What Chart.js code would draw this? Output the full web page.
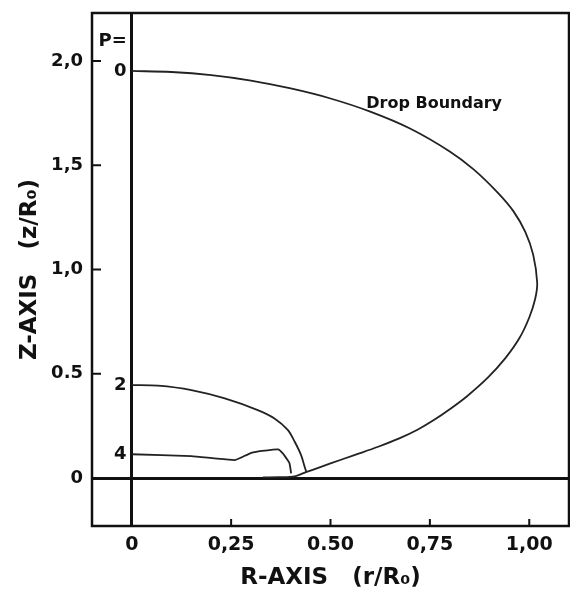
<!DOCTYPE html>
<html>
<head>
<meta charset="utf-8">
<script src="https://cdn.jsdelivr.net/npm/chart.js@4"></script>
<style>
  html, body { margin: 0; padding: 0; background: #fff; }
  #wrap { width: 570px; height: 595px; }
</style>
</head>
<body>
<div id="wrap"><canvas id="dropChart"></canvas></div>
<script>
// contours, r/R0 and z/R0
const boundaryR = [0.000, 0.10, 0.20, 0.30, 0.40, 0.50, 0.60, 0.70, 0.80, 0.86, 0.92, 0.96, 0.99, 1.01, 1.02, 1.015, 1.00, 0.975, 0.94, 0.895, 0.842, 0.80, 0.76, 0.72, 0.673, 0.62, 0.56, 0.50, 0.44, 0.41, 0.37, 0.33];
const boundaryZ = [1.952, 1.947, 1.932, 1.906, 1.868, 1.82, 1.757, 1.676, 1.566, 1.48, 1.37, 1.28, 1.18, 1.07, 0.935, 0.86, 0.77, 0.67, 0.575, 0.48, 0.39, 0.33, 0.278, 0.233, 0.19, 0.15, 0.11, 0.07, 0.03, 0.008, 0.004, 0.003];

const p2R = [0.000, 0.066, 0.15, 0.234, 0.317, 0.359, 0.393, 0.41, 0.426, 0.435, 0.439];
const p2Z = [0.446, 0.443, 0.422, 0.382, 0.326, 0.286, 0.230, 0.174, 0.11, 0.054, 0.03];

const p4R = [0.000, 0.15, 0.208, 0.259, 0.276, 0.301, 0.334, 0.368, 0.38, 0.392, 0.397, 0.401];
const p4Z = [0.114, 0.105, 0.094, 0.086, 0.099, 0.121, 0.131, 0.137, 0.118, 0.086, 0.07, 0.022];

const curveLabels = ["0", "2", "4"];   // P value written beside each curve
const xTickValues = [0, 0.25, 0.5, 0.75, 1.0];
const xTickLabels = ["0", "0,25", "0.50", "0,75", "1,00"];
const yTickValues = [0, 0.5, 1.0, 1.5, 2.0];
const yTickLabels = ["0", "0.5", "1,0", "1,5", "2,0"];

const ink = "#111";
const toPoints = (rs, zs) => rs.map((r, i) => ({ x: r, y: zs[i] }));

// frame, inward ticks and the hand lettering
const frameAndLabels = {
  id: "frameAndLabels",
  afterDraw(chart) {
    const { ctx, chartArea: a, scales: { x, y } } = chart;
    ctx.save();
    ctx.strokeStyle = ink;
    ctx.lineWidth = 2.5;
    ctx.strokeRect(a.left, a.top, a.right - a.left, a.bottom - a.top);

    ctx.lineWidth = 2;
    ctx.beginPath();
    xTickValues.slice(1).forEach(v => {
      const px = x.getPixelForValue(v);
      ctx.moveTo(px, a.bottom);
      ctx.lineTo(px, a.bottom - 7);
    });
    yTickValues.slice(1).forEach(v => {
      const py = y.getPixelForValue(v);
      ctx.moveTo(a.left, py);
      ctx.lineTo(a.left + 9, py);
    });
    ctx.stroke();

    ctx.fillStyle = ink;
    ctx.font = "bold 18px 'DejaVu Sans'";
    ctx.textAlign = "center";
    ctx.textBaseline = "middle";
    const starts = [boundaryZ[0], p2Z[0], p4Z[0]];
    curveLabels.forEach((t, i) => {
      ctx.fillText(t, x.getPixelForValue(-0.029), y.getPixelForValue(starts[i]));
    });
    ctx.fillText("P=", x.getPixelForValue(-0.048), y.getPixelForValue(2.096));

    ctx.font = "bold 16px 'DejaVu Sans'";
    ctx.textAlign = "left";
    ctx.fillText("Drop Boundary", x.getPixelForValue(0.59), y.getPixelForValue(1.795));
    ctx.restore();
  }
};

const lineStyle = { showLine: true, pointRadius: 0, borderColor: "#222", borderWidth: 1.8, fill: false };

// keep the tick label overhang from pushing the plot area around
const noPad = s => { s.paddingTop = 0; s.paddingBottom = 0; s.paddingLeft = 0; s.paddingRight = 0; };

new Chart(document.getElementById("dropChart"), {
  type: "scatter",
  data: {
    datasets: [
      { ...lineStyle, data: toPoints(boundaryR, boundaryZ), tension: 0.35 },
      { ...lineStyle, data: toPoints(p2R, p2Z), tension: 0.3 },
      { ...lineStyle, data: toPoints(p4R, p4Z), tension: 0.15 }
    ]
  },
  options: {
    animation: false,
    responsive: true,
    maintainAspectRatio: false,
    layout: { padding: { top: 13, right: 1, left: 0, bottom: 0 } },
    plugins: { legend: { display: false }, tooltip: { enabled: false } },
    scales: {
      x: {
        type: "linear",
        min: -0.1,
        max: 1.1,
        afterBuildTicks: s => { s.ticks = xTickValues.map(v => ({ value: v })); },
        afterFit: s => { s.height = 69; noPad(s); },
        ticks: {
          callback: v => xTickLabels[xTickValues.indexOf(v)],
          color: ink,
          padding: 8,
          maxRotation: 0,
          font: { family: "'DejaVu Sans'", size: 19, weight: "bold" }
        },
        grid: {
          drawTicks: false,
          lineWidth: 3,
          color: c => (c.tick && c.tick.value === 0 ? ink : "rgba(0,0,0,0)")
        },
        border: { display: false },
        title: {
          display: true,
          text: "R-AXIS   (r/R₀)",
          color: ink,
          padding: { top: 0, bottom: 3 },
          font: { family: "'DejaVu Sans'", size: 23, weight: "bold" }
        }
      },
      y: {
        type: "linear",
        min: -0.23,
        max: 2.23,
        afterBuildTicks: s => { s.ticks = yTickValues.map(v => ({ value: v })); },
        afterFit: s => { s.width = 92; noPad(s); },
        ticks: {
          callback: v => yTickLabels[yTickValues.indexOf(v)],
          color: ink,
          padding: 9,
          font: { family: "'DejaVu Sans'", size: 18, weight: "bold" }
        },
        grid: {
          drawTicks: false,
          lineWidth: 3,
          color: c => (c.tick && c.tick.value === 0 ? ink : "rgba(0,0,0,0)")
        },
        border: { display: false },
        title: {
          display: true,
          text: "Z-AXIS   (z/R₀)",
          color: ink,
          padding: { top: 16, bottom: 0 },
          font: { family: "'DejaVu Sans'", size: 23, weight: "bold" }
        }
      }
    }
  },
  plugins: [frameAndLabels]
});
</script>
</body>
</html>
